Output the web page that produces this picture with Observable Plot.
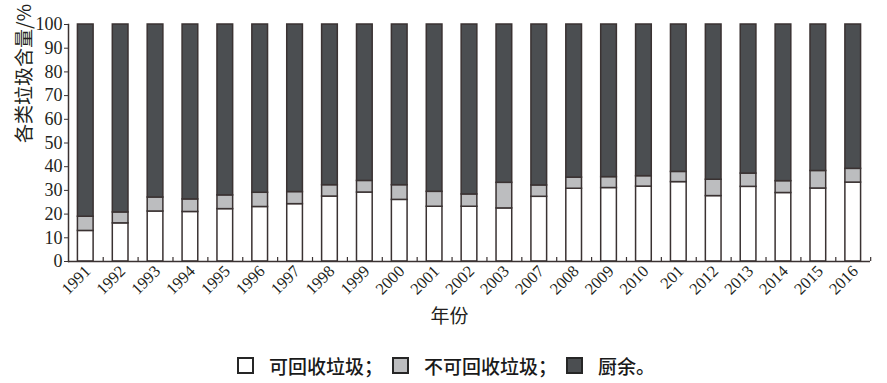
<!DOCTYPE html>
<html><head><meta charset="utf-8">
<script src="https://cdn.jsdelivr.net/npm/d3@7"></script>
<script src="https://cdn.jsdelivr.net/npm/@observablehq/plot@0.6"></script>
<style>
body{margin:0;background:#fff;width:887px;height:383px;overflow:hidden}
#legend{display:flex;justify-content:center;align-items:center;height:20px;margin-top:17px;font-family:"Noto Sans CJK SC";font-size:19px;font-weight:500;color:#1a1a1a;padding-left:5px}
.item{display:flex;align-items:center}
.sw{width:13px;height:13px;border:2px solid #262626;margin-right:15px;box-sizing:content-box}
</style></head><body>
<div id="chart"></div>
<div id="legend"></div>
<script>
// categories (tick labels as printed, incl. "201")
const years = ["1991","1992","1993","1994","1995","1996","1997","1998","1999","2000","2001","2002","2003","2007","2008","2009","2010","201","2012","2013","2014","2015","2016"];
// series values (%)
const recyclable    = [12.9,16.1,21.1,20.9,22.1,23.0,24.2,27.4,29.1,26.0,23.1,23.1,22.4,27.3,30.7,31.0,31.6,33.5,27.6,31.5,28.9,30.8,33.3];
const nonRecyclable = [ 6.0, 4.6, 5.9, 5.3, 5.8, 6.0, 5.1, 4.8, 4.9, 6.2, 6.3, 5.2,10.8, 4.8, 4.7, 4.6, 4.4, 4.3, 6.9, 5.6, 5.0, 7.4, 5.8];
const kitchen       = [81.1,79.3,73.0,73.8,72.1,71.0,70.7,67.8,66.0,67.8,70.6,71.7,66.8,67.9,64.6,64.4,64.0,62.2,65.5,62.9,66.1,61.8,60.9];
const seriesNames = ["可回收垃圾","不可回收垃圾","厨余"];
const legendLabels = ["可回收垃圾；","不可回收垃圾；","厨余。"];
const seriesColors = ["#ffffff","#bcbdbf","#4b4e51"];
const yTicks = [0,10,20,30,40,50,60,70,80,90,100];
const yTitle = "各类垃圾含量/%";
const xTitle = "年份";

const rows = years.flatMap((y,i)=>[
  {year:y,type:seriesNames[0],value:recyclable[i]},
  {year:y,type:seriesNames[1],value:nonRecyclable[i]},
  {year:y,type:seriesNames[2],value:kitchen[i]}
]);

const W=887,H=338,mL=68,mR=17,mT=24,mB=77;
const pIn=0.55,pOut=0.27;
const step=(W-mL-mR)/(years.length-pIn+2*pOut);
const ink="#3a3232", txt="#231f20";
const serif="'Liberation Serif','Times New Roman',serif";

const chart = Plot.plot({
  width:W,height:H,marginLeft:mL,marginRight:mR,marginTop:mT,marginBottom:mB,
  style:{fontFamily:serif,color:txt,background:"#fff"},
  x:{domain:years,paddingInner:pIn,paddingOuter:pOut,round:false,label:null},
  y:{domain:[0,100],label:null},
  color:{domain:seriesNames,range:seriesColors},
  marks:[
    Plot.barY(rows,{x:"year",y:"value",fill:"type",stroke:ink,strokeWidth:1.5}),
    Plot.ruleY([0],{stroke:ink,strokeWidth:1.5}),
    Plot.frame({anchor:"left",stroke:ink,strokeWidth:1.5}),
    Plot.axisX({anchor:"bottom",tickSize:4,dy:-4,dx:step/2,tickFormat:()=>"",label:null,stroke:ink,strokeWidth:1.2}),
    Plot.axisX({anchor:"bottom",tickSize:0,tickPadding:7,tickRotate:-45,dx:2,fontSize:16.5,label:null,fill:txt}),
    Plot.axisY({ticks:yTicks,tickSize:4,tickPadding:2,fontSize:18,label:null,stroke:ink,fill:txt}),
    Plot.text([yTitle],{frameAnchor:"left",rotate:-90,dx:-44,fontSize:19,fontFamily:"Noto Sans CJK SC",fill:txt}),
    Plot.text([xTitle],{frameAnchor:"bottom",dy:61,dx:-20,fontSize:19,fontFamily:"Noto Sans CJK SC",fill:txt})
  ]
});
document.getElementById("chart").appendChild(chart);

const lg=document.getElementById("legend");
legendLabels.forEach((t,i)=>{
  const it=document.createElement("div");it.className="item";
  if(i>0) it.style.marginLeft="9px";
  const sw=document.createElement("div");sw.className="sw";sw.style.background=seriesColors[i];
  const sp=document.createElement("span");sp.textContent=t;
  it.appendChild(sw);it.appendChild(sp);lg.appendChild(it);
});
</script>
</body></html>
